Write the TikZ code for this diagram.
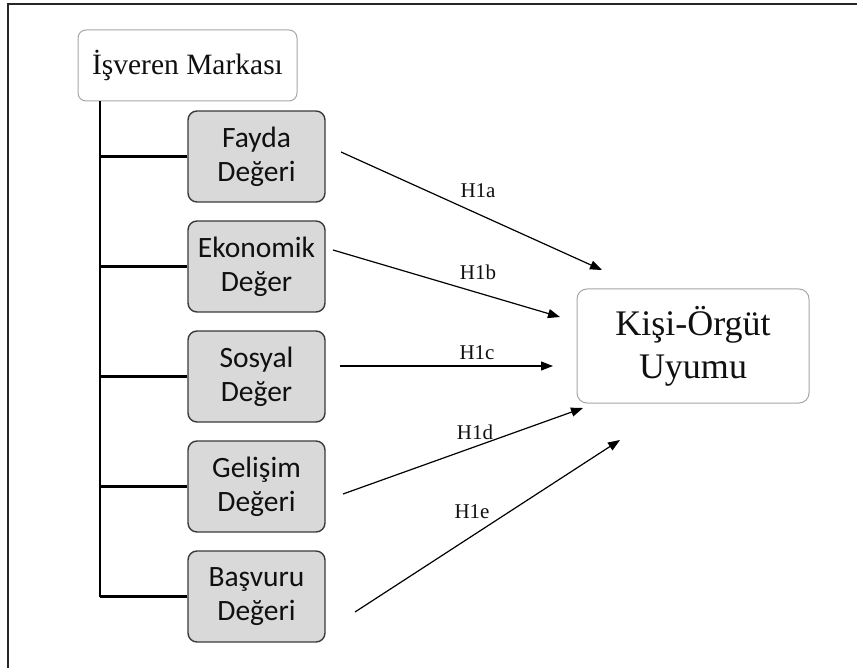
\documentclass[tikz,border=0pt]{standalone}
\usepackage{fontspec}
\setmainfont{Liberation Serif}
\newfontfamily\boxfont{Carlito}
\usetikzlibrary{arrows.meta,calc}
\definecolor{boxgray}{HTML}{D9D9D9}
\definecolor{edgedark}{HTML}{3A3A3A}
\definecolor{edgelight}{HTML}{A6A6A6}
\definecolor{inkdark}{HTML}{101010}
\tikzset{
  dimbox/.style={draw=edgedark, line width=1.4pt, fill=boxgray, rounded corners=9pt,
    minimum width=137pt, minimum height=91pt, inner sep=0pt, align=center,
    text=inkdark, font=\boxfont\fontsize{29.5}{34}\selectfont},
  headbox/.style={draw=edgelight, line width=1pt, fill=white, rounded corners=8pt,
    minimum width=219pt, minimum height=71pt, inner sep=0pt, text=inkdark,
    font=\fontsize{29.5}{32}\selectfont},
  outbox/.style={draw=edgelight, line width=1pt, fill=white, rounded corners=10pt,
    minimum width=232pt, minimum height=114pt, inner sep=0pt, align=center,
    text=inkdark, font=\fontsize{36}{43}\selectfont},
  trunkline/.style={draw=black, line width=2.3pt},
  hyp/.style={draw=black, line width=1.2pt, -{Triangle[length=12pt,width=9pt]}},
  hyplabel/.style={inner sep=0pt, text=inkdark, font=\fontsize{21}{24}\selectfont},
  frameline/.style={draw=black!85, line width=2pt},
}
\begin{document}
\begin{tikzpicture}[x=1pt,y=-1pt]
\useasboundingbox (0,0) rectangle (857,668);

% outer frame (top and left edges)
\coordinate (frameL) at (8,668);
\coordinate (frameC) at (8,4.5);
\coordinate (frameR) at (857,4.5);
\draw[frameline] (frameL) -- (frameC) -- (frameR);

% boxes
\node[headbox] (brand) at (187.5,65.5) {İşveren Markası};
\node[dimbox] (fayda)    at (256.5,156.5) {Fayda\\Değeri};
\node[dimbox] (ekonomik) at (256.5,266.5) {Ekonomik\\Değer};
\node[dimbox] (sosyal)   at (256.5,376.5) {Sosyal\\Değer};
\node[dimbox] (gelisim)  at (256.5,486.5) {Gelişim\\Değeri};
\node[dimbox] (basvuru)  at (256.5,596.5) {Başvuru\\Değeri};
\node[outbox] (fit) at (693,346) {Kişi-Örgüt\\Uyumu};

% tree from the brand box to its five dimensions
\coordinate (trunk) at (brand.south west -| 100,0);
\draw[trunkline] (trunk) -- (basvuru.west -| trunk);
\foreach \n in {fayda,ekonomik,sosyal,gelisim,basvuru}
  \draw[trunkline] (\n.west -| trunk) -- (\n.west);

% hypothesis arrows
\coordinate (aS) at (341,152);  \coordinate (aE) at (602,270);
\coordinate (bS) at (333,250);  \coordinate (bE) at (560,317);
\coordinate (cS) at (340,366);  \coordinate (cE) at (553,366);
\coordinate (dS) at (343,494);  \coordinate (dE) at (583,408);
\coordinate (eS) at (355,612);  \coordinate (eE) at (620,440);
\draw[hyp] (aS) -- (aE);
\draw[hyp] (bS) -- (bE);
\draw[hyp] (cS) -- (cE);
\draw[hyp] (dS) -- (dE);
\draw[hyp] (eS) -- (eE);

\node[hyplabel] (h1a) at (478,191) {H1a};
\node[hyplabel] (h1b) at (478,272) {H1b};
\node[hyplabel] (h1c) at (477,353) {H1c};
\node[hyplabel] (h1d) at (475,432) {H1d};
\node[hyplabel] (h1e) at (472,512) {H1e};
\end{tikzpicture}
\end{document}
